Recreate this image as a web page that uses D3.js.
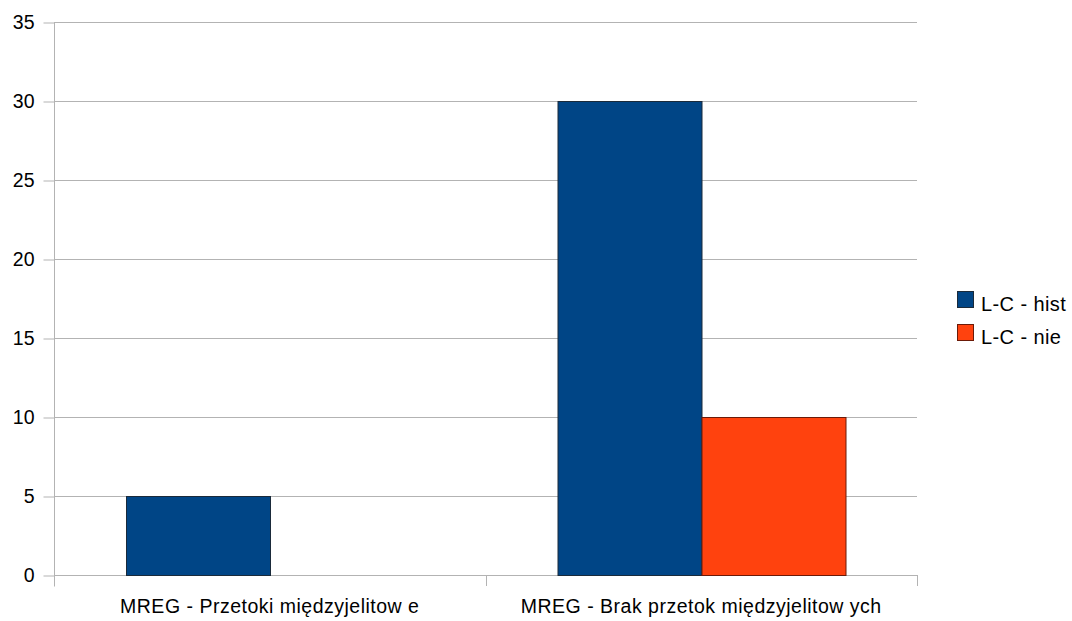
<!DOCTYPE html>
<html>
<head>
<meta charset="utf-8">
<script src="https://cdn.jsdelivr.net/npm/d3@7"></script>
<style>
  body { margin: 0; background: #fff; }
  svg { display: block; font-family: "Liberation Sans", Arial, sans-serif; }
</style>
</head>
<body>
<svg id="chart" width="1072" height="621"></svg>
<script>
// Categories, series and axis ticks
const categories = ["MREG - Przetoki międzyjelitow e", "MREG - Brak przetok międzyjelitow ych"];
const seriesNames = ["L-C - hist", "L-C - nie"];
const seriesHist = [5, 30];
const seriesNie = [0, 10];
const yTicks = [0, 5, 10, 15, 20, 25, 30, 35];
const colors = ["#004586", "#ff420e"];

const svg = d3.select("#chart");
const plot = { left: 54, right: 917, top: 22, bottom: 575 };

const x = d3.scaleBand().domain(categories).range([plot.left, plot.right]).paddingInner(0).paddingOuter(0);
const xSub = d3.scaleBand().domain(seriesNames).range([0, x.bandwidth()]).paddingInner(0).paddingOuter(0.5);
const y = d3.scaleLinear().domain([0, 35]).range([plot.bottom, plot.top]);

// Horizontal gridlines
svg.append("g").selectAll("line").data(yTicks).join("line")
  .attr("x1", plot.left).attr("x2", plot.right)
  .attr("y1", d => Math.round(y(d)) + 0.5).attr("y2", d => Math.round(y(d)) + 0.5)
  .attr("stroke", "#b3b3b3").attr("stroke-width", 1);

// Bars
const data = categories.map((c, i) => ({ cat: c, values: [seriesHist[i], seriesNie[i]] }));
const groups = svg.append("g").selectAll("g").data(data).join("g")
  .attr("transform", d => `translate(${x(d.cat)},0)`);
groups.selectAll("rect")
  .data(d => d.values.map((v, j) => ({ name: seriesNames[j], v, j })).filter(e => e.v > 0))
  .join("rect")
  .attr("x", d => Math.round(xSub(d.name)) + 0.5)
  .attr("width", Math.round(xSub.bandwidth()))
  .attr("y", d => Math.round(y(d.v)) + 0.5)
  .attr("height", d => Math.round(y(0)) - Math.round(y(d.v)))
  .attr("fill", d => colors[d.j])
  .attr("stroke", d => d.j === 0 ? "#1a2a3a" : "#6b1a08")
  .attr("stroke-width", 1);

// Y axis
const yAxis = d3.axisLeft(y).tickValues(yTicks).tickSize(11).tickPadding(9);
const gy = svg.append("g").attr("transform", `translate(${plot.left + 0.5},0.5)`).call(yAxis);
gy.select(".domain").attr("stroke", "#b3b3b3").attr("d", `M0,${plot.top - 0.5}V${plot.bottom + 11}`);
gy.selectAll(".tick line").attr("stroke", "#b3b3b3");
gy.selectAll(".tick text").attr("font-size", 19.5).attr("fill", "#000")
  .attr("font-family", "Liberation Sans, Arial, sans-serif");

// X axis: boundary ticks and category labels
const bounds = [plot.left, x(categories[1]), plot.right];
svg.append("g").selectAll("line").data(bounds).join("line")
  .attr("x1", d => Math.round(d) + 0.5).attr("x2", d => Math.round(d) + 0.5)
  .attr("y1", plot.bottom).attr("y2", plot.bottom + 11)
  .attr("stroke", "#b3b3b3");
svg.append("g").selectAll("text").data(categories).join("text")
  .attr("x", d => x(d) + x.bandwidth() / 2)
  .attr("y", 613)
  .attr("text-anchor", "middle")
  .attr("font-size", 19.5)
  .attr("letter-spacing", 0.5)
  .attr("fill", "#000")
  .text(d => d);

// Legend
const legend = svg.append("g").selectAll("g").data(seriesNames).join("g")
  .attr("transform", (d, i) => `translate(957,${291 + i * 33})`);
legend.append("rect")
  .attr("x", 0.5).attr("y", 0.5).attr("width", 16).attr("height", 16)
  .attr("fill", (d, i) => colors[i])
  .attr("stroke", (d, i) => i === 0 ? "#1a2a3a" : "#6b1a08");
legend.append("text")
  .attr("x", 24).attr("y", 19.5)
  .attr("font-size", 20).attr("letter-spacing", 0.4)
  .attr("fill", "#000")
  .text(d => d);
</script>
</body>
</html>
